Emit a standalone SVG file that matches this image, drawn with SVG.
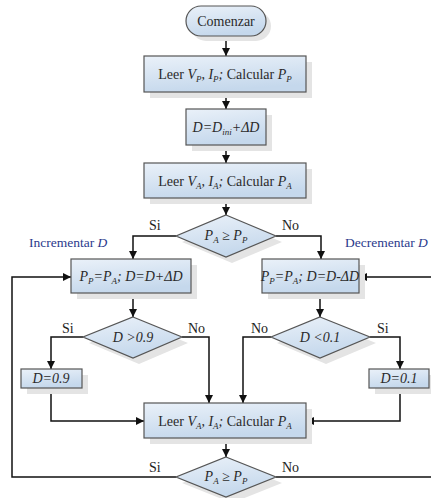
<svg xmlns="http://www.w3.org/2000/svg" width="431" height="498" viewBox="0 0 431 498" font-family="Liberation Serif, Times New Roman, serif">
<defs>
<linearGradient id="g" x1="0" y1="0" x2="0.3" y2="1">
<stop offset="0" stop-color="#eaf1f9"/>
<stop offset="1" stop-color="#c5d8ec"/>
</linearGradient>
<marker id="ah" viewBox="0 0 10 10" refX="10" refY="5" markerWidth="8" markerHeight="8" markerUnits="userSpaceOnUse" orient="auto">
<path d="M0,0 L10,5 L0,10 z" fill="#111"/>
</marker>
</defs>
<style>
.box{fill:url(#g);stroke:#555;stroke-width:1.2}
.sh{fill:#e4e4e4}
.t{font-size:14px;fill:#2a2a2a;text-anchor:middle}
.i{font-style:italic}
.s{font-size:9px}
.lbl{font-size:14px;fill:#222}
.blue{font-size:13.5px;fill:#2b3a8c}
.c{fill:none;stroke:#111;stroke-width:1.5}
</style>

<g id="connectors">
<path class="c" d="M226,36 V56" marker-end="url(#ah)"/>
<path class="c" d="M226,92 V109" marker-end="url(#ah)"/>
<path class="c" d="M226,145 V163" marker-end="url(#ah)"/>
<path class="c" d="M226,198 V215" marker-end="url(#ah)"/>
<path class="c" d="M176,236 H133 V259" marker-end="url(#ah)"/>
<path class="c" d="M276,236 H321 V259" marker-end="url(#ah)"/>
<path class="c" d="M133,293 V317" marker-end="url(#ah)"/>
<path class="c" d="M320,293 V317" marker-end="url(#ah)"/>
<path class="c" d="M83,337 H51 V369" marker-end="url(#ah)"/>
<path class="c" d="M182,337 H209 V403" marker-end="url(#ah)"/>
<path class="c" d="M271,337 H243 V403" marker-end="url(#ah)"/>
<path class="c" d="M370,337 H400 V369" marker-end="url(#ah)"/>
<path class="c" d="M51,388 V421 H144" marker-end="url(#ah)"/>
<path class="c" d="M400,388 V421 H306" marker-end="url(#ah)"/>
<path class="c" d="M226,438 V457" marker-end="url(#ah)"/>
<path class="c" d="M176,477 H12 V277 H71" marker-end="url(#ah)"/>
<path class="c" d="M276,477 H440 V277 H359" marker-end="url(#ah)"/>
</g>

<g id="start">
<rect class="sh" x="191" y="11" width="80" height="30" rx="15"/>
<rect class="box" x="186" y="6" width="80" height="30" rx="15"/>
<text class="t" x="226" y="26">Comenzar</text>
</g>

<g id="readP">
<rect class="sh" x="150" y="62" width="162" height="36"/>
<rect class="box" x="144" y="56" width="162" height="36"/>
<text class="t" x="225" y="79">Leer <tspan class="i">V</tspan><tspan class="i s" dy="3">P</tspan><tspan dy="-3">, </tspan><tspan class="i">I</tspan><tspan class="i s" dy="3">P</tspan><tspan class="i" dy="-3">;</tspan> Calcular <tspan class="i">P</tspan><tspan class="i s" dy="3">P</tspan></text>
</g>

<g id="initD">
<rect class="sh" x="192" y="115" width="80" height="36"/>
<rect class="box" x="186" y="109" width="80" height="36"/>
<text class="t i" x="226" y="132">D=D<tspan class="s" dy="3">ini</tspan><tspan dy="-3">+ΔD</tspan></text>
</g>

<g id="readA1">
<rect class="sh" x="150" y="169" width="162" height="35"/>
<rect class="box" x="144" y="163" width="162" height="35"/>
<text class="t" x="225" y="186">Leer <tspan class="i">V</tspan><tspan class="i s" dy="3">A</tspan><tspan dy="-3">, </tspan><tspan class="i">I</tspan><tspan class="i s" dy="3">A</tspan><tspan class="i" dy="-3">;</tspan> Calcular <tspan class="i">P</tspan><tspan class="i s" dy="3">A</tspan></text>
</g>

<g id="cmp1">
<polygon class="sh" points="232,221 282,242 232,263 182,242"/>
<polygon class="box" points="226,215 276,236 226,257 176,236"/>
<text class="t i" x="226" y="240">P<tspan class="s" dy="3">A</tspan><tspan dy="-3"> ≥ P</tspan><tspan class="s" dy="3">P</tspan></text>
</g>

<g id="inc">
<rect class="sh" x="77" y="265" width="120" height="34"/>
<rect class="box" x="71" y="259" width="120" height="34"/>
<text class="t i" x="131" y="281">P<tspan class="s" dy="3">P</tspan><tspan dy="-3">=P</tspan><tspan class="s" dy="3">A</tspan><tspan dy="-3">; D=D+ΔD</tspan></text>
</g>

<g id="dec">
<rect class="sh" x="268" y="265" width="97" height="34"/>
<rect class="box" x="262" y="259" width="97" height="34"/>
<text class="t i" x="310" y="281">P<tspan class="s" dy="3">P</tspan><tspan dy="-3">=P</tspan><tspan class="s" dy="3">A</tspan><tspan dy="-3">; D=D-ΔD</tspan></text>
</g>

<g id="cmp09">
<polygon class="sh" points="139,323 188,343 139,364 89,343"/>
<polygon class="box" points="133,317 182,337 133,358 83,337"/>
<text class="t i" x="133" y="342">D &gt;0.9</text>
</g>

<g id="cmp01">
<polygon class="sh" points="326,323 376,343 326,364 277,343"/>
<polygon class="box" points="320,317 370,337 320,358 271,337"/>
<text class="t i" x="320" y="342">D &lt;0.1</text>
</g>

<g id="set09">
<rect class="sh" x="27" y="375" width="61" height="19"/>
<rect class="box" x="21" y="369" width="61" height="19"/>
<text class="t i" x="51" y="383">D=0.9</text>
</g>

<g id="set01">
<rect class="sh" x="375" y="375" width="61" height="19"/>
<rect class="box" x="369" y="369" width="60" height="19"/>
<text class="t i" x="399" y="383">D=0.1</text>
</g>

<g id="readA2">
<rect class="sh" x="150" y="409" width="162" height="35"/>
<rect class="box" x="144" y="403" width="162" height="35"/>
<text class="t" x="225" y="426">Leer <tspan class="i">V</tspan><tspan class="i s" dy="3">A</tspan><tspan dy="-3">, </tspan><tspan class="i">I</tspan><tspan class="i s" dy="3">A</tspan><tspan class="i" dy="-3">;</tspan> Calcular <tspan class="i">P</tspan><tspan class="i s" dy="3">A</tspan></text>
</g>

<g id="cmp2">
<polygon class="sh" points="232,463 282,483 232,503 182,483"/>
<polygon class="box" points="226,457 276,477 226,497 176,477"/>
<text class="t i" x="226" y="481">P<tspan class="s" dy="3">A</tspan><tspan dy="-3"> ≥ P</tspan><tspan class="s" dy="3">P</tspan></text>
</g>

<g id="labels">
<text class="lbl" x="149" y="230">Si</text>
<text class="lbl" x="282" y="230">No</text>
<text class="blue" x="29" y="247">Incrementar <tspan font-style="italic">D</tspan></text>
<text class="blue" x="345" y="247">Decrementar <tspan font-style="italic">D</tspan></text>
<text class="lbl" x="62" y="333">Si</text>
<text class="lbl" x="188" y="333">No</text>
<text class="lbl" x="251" y="333">No</text>
<text class="lbl" x="377" y="333">Si</text>
<text class="lbl" x="149" y="472">Si</text>
<text class="lbl" x="282" y="472">No</text>
</g>
</svg>
